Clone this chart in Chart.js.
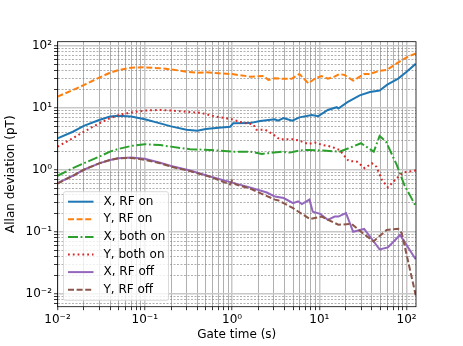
<!doctype html>
<html lang="en">
  <head>
    <meta charset="UTF-8" />
    <title>Allan deviation</title>
    <script src="https://cdn.jsdelivr.net/npm/chart.js"></script>
    <style>
      body {
        margin: 0;
        background: #fff;
      }
      canvas {
        display: block;
      }
    </style>
  </head>
  <body>
    <canvas id="adevChart" width="463" height="346"></canvas>
    <script>
      // values (gate time in s, deviation in pT)
      const seriesLabels = ['X, RF on', 'Y, RF on', 'X, both on', 'Y, both on', 'X, RF off', 'Y, RF off'];

      const tauXRfOn = [0.01, 0.015, 0.02, 0.03, 0.04, 0.05, 0.07, 0.1, 0.15, 0.2, 0.3, 0.4, 0.5, 0.7, 0.95, 1.03, 1.6, 2.1, 3.1, 3.35, 3.9, 4.2, 4.9, 5.9, 8.2, 9.7, 12.5, 15.8, 16.5, 21, 29, 38, 49, 60, 80, 100, 127];
      const devXRfOn = [3.2, 4.1, 5.1, 6.35, 7.2, 7.45, 7.2, 6.5, 5.6, 5.0, 4.4, 4.25, 4.55, 4.75, 4.95, 5.6, 5.65, 6.1, 6.5, 6.2, 6.8, 6.6, 6.2, 7.0, 7.6, 7.3, 9.2, 10.2, 9.7, 12.3, 15.8, 17.9, 19.0, 23.5, 29.5, 38, 51];

      const tauYRfOn = [0.01, 0.015, 0.02, 0.03, 0.04, 0.05, 0.07, 0.1, 0.15, 0.2, 0.3, 0.4, 0.5, 0.7, 1.0, 1.6, 2.3, 2.6, 3.1, 3.9, 4.8, 5.9, 7.5, 9.0, 10.6, 12.5, 14.9, 17, 19.4, 24.4, 32.6, 38, 49, 59, 77, 100, 127];
      const devYRfOn = [15.1, 19.3, 23.2, 30.5, 36.7, 40.5, 44.2, 44.8, 43.2, 41.6, 38.1, 36.7, 37.2, 35.9, 34.9, 31.7, 32.5, 28, 29.8, 29.3, 29.3, 35, 24.7, 29.8, 32.5, 29.3, 31.7, 35, 33.7, 27.3, 35, 35, 39.5, 40.5, 51.9, 64.9, 75];

      const tauXBothOn = [0.01, 0.015, 0.02, 0.03, 0.04, 0.05, 0.07, 0.1, 0.15, 0.2, 0.33, 0.56, 1.0, 1.6, 2.2, 2.6, 3.7, 4.6, 5.9, 7.4, 11, 17, 21.6, 30, 42, 49, 58, 77, 94, 127];
      const devXBothOn = [0.8, 1.06, 1.27, 1.63, 1.96, 2.17, 2.42, 2.58, 2.5, 2.36, 2.14, 2.09, 1.96, 1.96, 1.8, 1.85, 1.96, 1.89, 2.04, 2.09, 2.04, 1.96, 2.22, 2.68, 1.96, 3.5, 2.84, 1.2, 0.57, 0.26];

      const tauYBothOn = [0.01, 0.015, 0.02, 0.03, 0.04, 0.05, 0.07, 0.1, 0.15, 0.2, 0.3, 0.43, 0.65, 1.0, 1.3, 1.75, 1.9, 2.4, 2.9, 3.5, 4.3, 5.0, 5.9, 7.5, 8.9, 11, 13.7, 17, 21.6, 27, 33, 40, 45, 52, 61, 77, 91, 127];
      const devYBothOn = [2.36, 3.22, 4.1, 5.6, 6.76, 7.6, 8.4, 9.0, 9.2, 9.0, 8.6, 8.3, 7.2, 6.5, 5.75, 5.4, 4.4, 4.4, 3.8, 3.1, 3.1, 3.1, 2.95, 2.6, 2.74, 2.5, 2.36, 2.09, 1.39, 1.35, 1.06, 1.27, 1.12, 0.69, 0.52, 0.73, 0.9, 0.97];

      const tauXRfOff = [0.01, 0.015, 0.02, 0.03, 0.04, 0.05, 0.07, 0.1, 0.15, 0.2, 0.33, 0.56, 1.0, 1.6, 2.5, 3.1, 3.9, 5.0, 5.7, 6.3, 7.7, 8.4, 10.2, 12.5, 15, 16.5, 20.2, 24.4, 32.6, 38, 49, 61, 84, 127];
      const devXRfOff = [0.61, 0.8, 1.0, 1.27, 1.44, 1.53, 1.57, 1.5, 1.3, 1.15, 0.97, 0.78, 0.62, 0.52, 0.43, 0.37, 0.35, 0.29, 0.31, 0.28, 0.33, 0.21, 0.195, 0.156, 0.176, 0.176, 0.2, 0.1, 0.111, 0.084, 0.052, 0.056, 0.089, 0.036];

      const tauYRfOff = [0.01, 0.015, 0.02, 0.03, 0.04, 0.05, 0.07, 0.1, 0.15, 0.2, 0.33, 0.56, 0.95, 1.0, 1.1, 1.6, 2.1, 3.1, 3.4, 5.0, 7.8, 10.6, 16.5, 23.4, 30, 41.7, 59, 80, 88, 127];
      const devYRfOff = [0.6, 0.8, 1.0, 1.27, 1.44, 1.53, 1.55, 1.45, 1.27, 1.12, 0.95, 0.77, 0.58, 0.67, 0.58, 0.5, 0.42, 0.33, 0.32, 0.24, 0.16, 0.176, 0.13, 0.134, 0.1, 0.07, 0.107, 0.112, 0.095, 0.0095];

      const xMajorTicks = [0.01, 0.1, 1, 10, 100];
      const xTickLabels = ['10\u207B\u00B2', '10\u207B\u00B9', '10\u2070', '10\u00B9', '10\u00B2'];
      const yMajorTicks = [0.01, 0.1, 1, 10, 100];
      const yTickLabels = ['10\u207B\u00B2', '10\u207B\u00B9', '10\u2070', '10\u00B9', '10\u00B2'];

      const colors = ['#1f77b4', '#ff7f0e', '#2ca02c', '#d62728', '#9467bd', '#8c564b'];
      const dashes = [[], [6, 2.6], [10, 2.6, 1.8, 2.6], [1.8, 3], [], [6, 2.6]];

      const xRange = [0.01, 128];
      const yRange = [0.0062, 116];

      Chart.defaults.font.family = "'DejaVu Sans', sans-serif";
      Chart.defaults.font.size = 12;
      Chart.defaults.color = '#000';

      function logTicks(min, max) {
        const out = [];
        for (let e = Math.floor(Math.log10(min)); e <= Math.ceil(Math.log10(max)); e++) {
          for (let m = 1; m <= 9; m++) {
            const v = parseFloat((m * Math.pow(10, e)).toPrecision(3));
            if (v >= min && v <= max) out.push({ value: v });
          }
        }
        return out;
      }

      function majorIndex(majors, v) {
        return majors.findIndex((m) => Math.abs(m - v) / m < 1e-6);
      }

      function pairs(xs, ys) {
        return xs.map((x, i) => ({ x: x, y: ys[i] }));
      }

      const seriesData = [
        pairs(tauXRfOn, devXRfOn),
        pairs(tauYRfOn, devYRfOn),
        pairs(tauXBothOn, devXBothOn),
        pairs(tauYBothOn, devYBothOn),
        pairs(tauXRfOff, devXRfOff),
        pairs(tauYRfOff, devYRfOff),
      ];

      const datasets = seriesData.map((d, i) => ({
        label: seriesLabels[i],
        data: d,
        borderColor: colors[i],
        backgroundColor: colors[i],
        borderWidth: 2,
        borderDash: dashes[i],
        borderCapStyle: 'butt',
        pointRadius: 0,
        tension: 0,
        fill: false,
        order: seriesLabels.length - i,
      }));

      function axisOptions(range, majors, labels, dashMinor) {
        return {
          type: 'logarithmic',
          min: range[0],
          max: range[1],
          afterBuildTicks: (scale) => {
            scale.ticks = logTicks(range[0], range[1]);
          },
          ticks: {
            autoSkip: false,
            maxRotation: 0,
            padding: 2,
            color: '#000',
            font: { size: 12 },
            callback: (value) => {
              const k = majorIndex(majors, value);
              return k >= 0 ? labels[k] : '';
            },
          },
          grid: {
            color: (ctx) =>
              ctx.tick && majorIndex(majors, ctx.tick.value) >= 0 ? '#c8c8c8' : '#7a7a7a',
            lineWidth: (ctx) =>
              ctx.tick && majorIndex(majors, ctx.tick.value) >= 0 ? 1.5 : 0.6,
            tickColor: '#000',
            tickLength: 3.5,
            tickWidth: 0.8,
          },
          border: {
            display: false,
            dash: (ctx) =>
              dashMinor && ctx.tick && majorIndex(majors, ctx.tick.value) < 0 ? [2, 1.5] : [],
          },
        };
      }

      const xAxis = axisOptions(xRange, xMajorTicks, xTickLabels, false);
      xAxis.title = { display: true, text: 'Gate time (s)', padding: { top: 0, bottom: 4 }, font: { size: 12 } };
      xAxis.afterFit = (scale) => {
        scale.height = 39.3;
      };

      const yAxis = axisOptions(yRange, yMajorTicks, yTickLabels, true);
      yAxis.title = { display: true, text: 'Allan deviation (pT)', padding: { top: 4, bottom: 0 }, font: { size: 12 } };
      yAxis.afterFit = (scale) => {
        scale.width = 57.5;
      };

      const framePlugin = {
        id: 'frame',
        afterDatasetsDraw(chart) {
          const a = chart.chartArea;
          const ctx = chart.ctx;
          ctx.save();
          ctx.strokeStyle = '#000';
          ctx.lineWidth = 0.8;
          ctx.strokeRect(a.left, a.top, a.right - a.left, a.bottom - a.top);
          ctx.restore();
        },
      };

      // legend drawn inside the axes like matplotlib's
      const insideLegend = {
        id: 'insideLegend',
        afterDraw(chart) {
          const ctx = chart.ctx;
          const a = chart.chartArea;
          const x0 = a.left + 6;
          const y0 = a.top + 150;
          const w = 105;
          const rowH = 17.6;
          const h = rowH * chart.data.datasets.length + 3;
          ctx.save();
          ctx.beginPath();
          ctx.roundRect(x0, y0, w, h, 2);
          ctx.fillStyle = 'rgba(255,255,255,0.8)';
          ctx.fill();
          ctx.strokeStyle = '#d0d0d0';
          ctx.lineWidth = 0.8;
          ctx.stroke();
          ctx.font = "12px 'DejaVu Sans', sans-serif";
          ctx.textBaseline = 'middle';
          chart.data.datasets.forEach((ds, i) => {
            const y = y0 + 10 + i * rowH;
            ctx.beginPath();
            ctx.setLineDash(ds.borderDash);
            ctx.lineCap = 'butt';
            ctx.strokeStyle = ds.borderColor;
            ctx.lineWidth = 2;
            ctx.moveTo(x0 + 4.5, y);
            ctx.lineTo(x0 + 30, y);
            ctx.stroke();
            ctx.setLineDash([]);
            ctx.fillStyle = '#000';
            ctx.fillText(ds.label, x0 + 40, y);
          });
          ctx.restore();
        },
      };

      new Chart(document.getElementById('adevChart'), {
        type: 'line',
        data: { datasets: datasets },
        options: {
          responsive: false,
          animation: false,
          devicePixelRatio: 1,
          layout: { padding: { left: 0, right: 47, top: 41.7, bottom: 0 } },
          plugins: {
            legend: { display: false },
            tooltip: { enabled: false },
          },
          scales: { x: xAxis, y: yAxis },
        },
        plugins: [framePlugin, insideLegend],
      });
    </script>
  </body>
</html>
